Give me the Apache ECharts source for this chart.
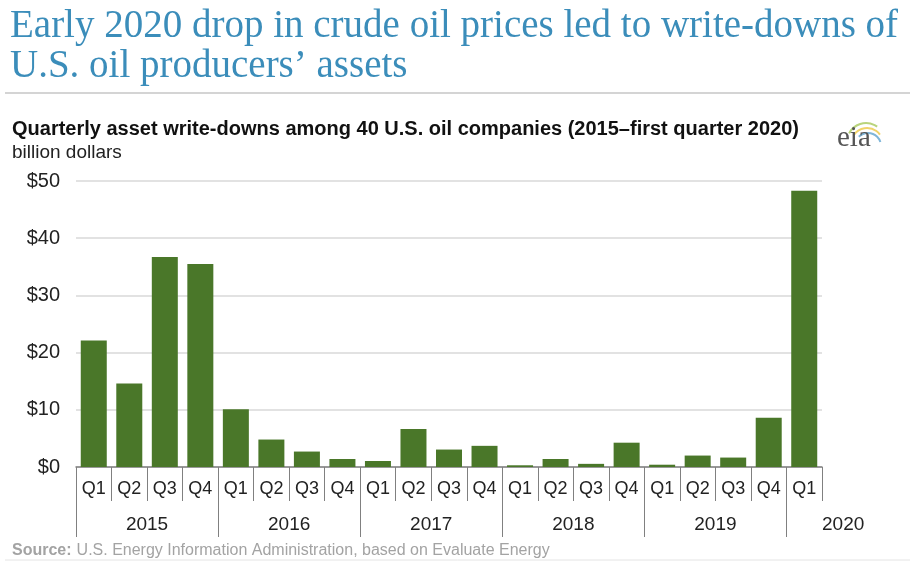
<!DOCTYPE html>
<html>
<head>
<meta charset="utf-8">
<script src="https://cdn.jsdelivr.net/npm/echarts@6/dist/echarts.min.js"></script>
<style>
html,body{margin:0;padding:0;background:#fff;}
#chart{width:910px;height:564px;}
</style>
</head>
<body>
<div id="chart"></div>
<script>
// ---- data ----
const quarters = ['Q1','Q2','Q3','Q4','Q1','Q2','Q3','Q4','Q1','Q2','Q3','Q4','Q1','Q2','Q3','Q4','Q1','Q2','Q3','Q4','Q1'];
const years = ['2015','2016','2017','2018','2019','2020'];
const quartersPerYear = [4,4,4,4,4,1];
const writeDowns = [22.1,14.6,36.7,35.5, 10.1,4.8,2.7,1.4, 1.05,6.65,3.05,3.7, 0.3,1.4,0.55,4.25, 0.4,2.0,1.65,8.6, 48.3];
const yTicks = [0,10,20,30,40,50];

// ---- build year axis (boundary points 0..n) ----
const yearAxisData = [];
const yearDividerIdx = new Set();
const yearLabelIdx = new Set();
for (let i = 0; i <= quarters.length; i++) yearAxisData.push({value: ''});
let start = 0;
years.forEach((y, k) => {
  const n = quartersPerYear[k];
  yearDividerIdx.add(start);
  if (n % 2 === 0) {
    yearAxisData[start + n / 2] = {value: y};
    yearLabelIdx.add(start + n / 2);
  } else {
    yearAxisData[start + n] = {value: y, textStyle: {align: 'left'}};
    yearLabelIdx.add(start + n);
  }
  start += n;
});

const chart = echarts.init(document.getElementById('chart'), null, {renderer: 'canvas'});
const sans = 'Liberation Sans, Arial, sans-serif';
const option = {
  animation: false,
  backgroundColor: '#ffffff',
  title: [
    {
      text: 'Early 2020 drop in crude oil prices led to write-downs of\nU.S. oil producers\u2019 assets',
      left: 10, top: 7, padding: 0,
      textStyle: {fontFamily: 'Liberation Serif, Times New Roman, serif', fontSize: 39, fontWeight: 'normal', color: '#3b8dba', lineHeight: 40}
    },
    {
      text: 'Quarterly asset write-downs among 40 U.S. oil companies (2015\u2013first quarter 2020)',
      left: 12, top: 119, padding: 0,
      textStyle: {fontFamily: sans, fontSize: 20, fontWeight: 'bold', color: '#111111'}
    },
    {
      text: 'billion dollars',
      left: 12, top: 143, padding: 0,
      textStyle: {fontFamily: sans, fontSize: 19, fontWeight: 'normal', color: '#222222'}
    },
    {
      text: '{b|Source:} {n|U.S. Energy Information Administration, based on Evaluate Energy}',
      left: 12, top: 542, padding: 0,
      textStyle: {
        rich: {
          b: {fontFamily: sans, fontSize: 16, fontWeight: 'bold', color: '#a3a3a3'},
          n: {fontFamily: sans, fontSize: 16, fontWeight: 'normal', color: '#a3a3a3'}
        }
      }
    },
    {
      text: 'eia',
      left: 837, top: 124, padding: 0,
      textStyle: {fontFamily: 'Liberation Serif, serif', fontSize: 29, fontWeight: 'normal', color: '#555555'}
    }
  ],
  graphic: [
    {type: 'line', shape: {x1: 5, y1: 93, x2: 910, y2: 93}, style: {stroke: '#d4d4d4', lineWidth: 2}, silent: true},
    {type: 'line', shape: {x1: 5, y1: 560, x2: 910, y2: 560}, style: {stroke: '#e4e4e4', lineWidth: 1}, silent: true},
    {type: 'arc', shape: {cx: 866, cy: 142, r: 19, startAngle: -Math.PI * 0.85, endAngle: -Math.PI * 0.3}, style: {stroke: '#b9d47c', lineWidth: 2, fill: null}, silent: true},
    {type: 'arc', shape: {cx: 867, cy: 144, r: 16, startAngle: -Math.PI * 0.8, endAngle: -Math.PI * 0.2}, style: {stroke: '#f0d36a', lineWidth: 2, fill: null}, silent: true},
    {type: 'arc', shape: {cx: 868, cy: 146, r: 13, startAngle: -Math.PI * 0.75, endAngle: -Math.PI * 0.1}, style: {stroke: '#7fb6d9', lineWidth: 2, fill: null}, silent: true}
  ],
  grid: {left: 76, right: 88, top: 181, bottom: 97},
  xAxis: [
    {
      type: 'category',
      data: quarters,
      position: 'bottom',
      boundaryGap: true,
      axisLine: {show: true, lineStyle: {color: '#808080', width: 1.5}},
      axisTick: {show: true, interval: 0, length: 34, lineStyle: {color: '#808080', width: 1}},
      axisLabel: {interval: 0, margin: 13, fontFamily: sans, fontSize: 18, color: '#222222'},
      splitLine: {show: false}
    },
    {
      type: 'category',
      data: yearAxisData,
      position: 'bottom',
      boundaryGap: false,
      axisLine: {show: false},
      axisTick: {show: true, length: 70, interval: (i) => yearDividerIdx.has(i), lineStyle: {color: '#808080', width: 1}},
      axisLabel: {interval: (i) => yearLabelIdx.has(i), margin: 48, fontFamily: sans, fontSize: 19, color: '#222222'},
      splitLine: {show: false}
    }
  ],
  yAxis: {
    type: 'value',
    min: yTicks[0], max: yTicks[yTicks.length - 1], interval: yTicks[1] - yTicks[0],
    axisLine: {show: false},
    axisTick: {show: false},
    axisLabel: {margin: 16, fontFamily: sans, fontSize: 20, color: '#222222', formatter: (v) => '$' + v},
    splitLine: {lineStyle: {color: '#d9d9d9', width: 1.5}}
  },
  series: [
    {
      type: 'bar',
      xAxisIndex: 0,
      data: writeDowns,
      barWidth: 26,
      itemStyle: {color: '#4a7729'},
      z: 3
    }
  ]
};
chart.setOption(option);
</script>
</body>
</html>
